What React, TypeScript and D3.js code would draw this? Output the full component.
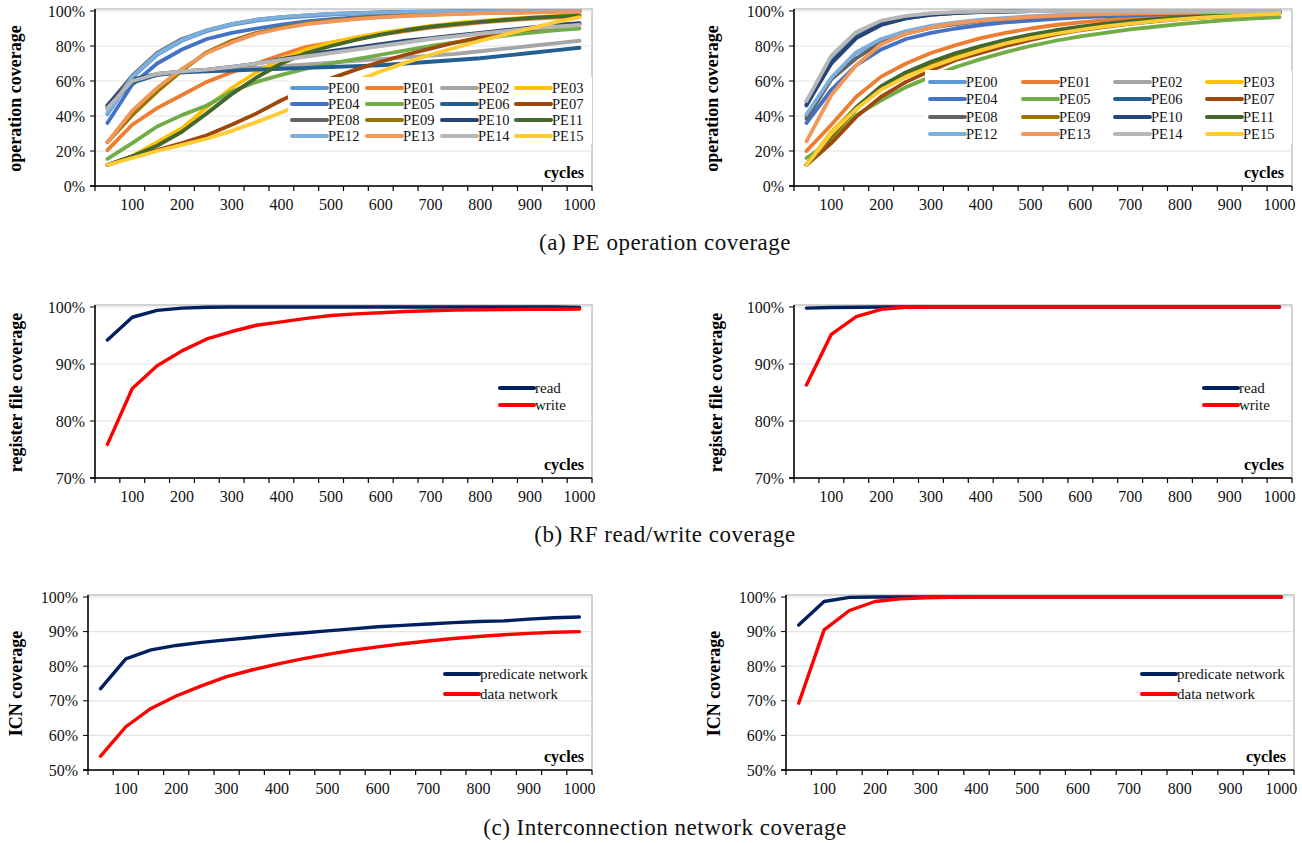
import React, { useEffect, useRef } from 'react';
import * as d3 from 'd3';

// categories on the x axis (simulation cycles)
const cycles = [50, 100, 150, 200, 250, 300, 350, 400, 450, 500, 550, 600, 650, 700, 750, 800, 850, 900, 950, 1000];
const xTickLabels = [100, 200, 300, 400, 500, 600, 700, 800, 900, 1000];

const peNames = ['PE00', 'PE01', 'PE02', 'PE03', 'PE04', 'PE05', 'PE06', 'PE07',
  'PE08', 'PE09', 'PE10', 'PE11', 'PE12', 'PE13', 'PE14', 'PE15'];
const peColors = ['#5B9BD5', '#ED7D31', '#A5A5A5', '#FFC000', '#4472C4', '#70AD47', '#255E91', '#9E480E',
  '#636363', '#997300', '#264478', '#43682B', '#7CAFDD', '#F1975A', '#B7B7B7', '#FFCD33'];

// (a) left: PE operation coverage, %
const opL00 = [41, 62, 75, 83, 88.5, 92, 94.5, 96, 97, 98, 98.5, 99, 99.3, 99.5, 99.7, 99.8, 99.9, 100, 100, 100];
const opL01 = [20.5, 35, 44.5, 52, 59.5, 65, 70, 75, 79.5, 82, 84.5, 86.5, 88.5, 90.5, 92, 93.3, 94.5, 95.5, 96.2, 96.8];
const opL02 = [44, 60, 63.5, 65, 66, 66.5, 67.5, 68.5, 69.5, 70.5, 71.5, 72.5, 73.5, 74.5, 75.5, 77, 78.5, 80, 81.5, 83];
const opL03 = [12, 17, 25, 33, 45, 56, 65, 72.5, 78, 82, 85, 87.5, 89.5, 91.5, 93, 94.3, 95.4, 96.3, 97, 97.6];
const opL04 = [36, 58, 70, 78, 84, 87.5, 90, 92.2, 94, 95.3, 96.3, 97, 97.6, 98.1, 98.5, 98.8, 99.1, 99.3, 99.5, 99.6];
const opL05 = [15.5, 24.5, 34, 40.5, 46, 54, 59.5, 63.5, 67, 70, 72.5, 75, 77.5, 80, 82, 84, 86, 87.5, 89, 90];
const opL06 = [45, 59, 63.5, 65, 65.5, 66, 66.5, 67, 67.5, 68, 68.5, 69, 70, 71, 72, 73, 74.5, 76, 77.5, 79];
const opL07 = [12, 17, 20.5, 24.5, 29, 35, 41.5, 49, 55.5, 61.5, 66.5, 71, 75, 78.5, 82, 85, 87.5, 89.5, 91, 92.5];
const opL08 = [46, 63, 76, 84, 89, 92.5, 95, 96.5, 97.5, 98.3, 98.8, 99.2, 99.5, 99.7, 99.8, 99.9, 100, 100, 100, 100];
const opL09 = [25, 40.5, 54, 66, 76.5, 83, 87.5, 90.5, 93, 94.5, 95.8, 96.7, 97.5, 98, 98.5, 98.9, 99.2, 99.4, 99.6, 99.7];
const opL10 = [46, 61, 64, 65.5, 66.5, 68, 70, 72.5, 75, 77, 79, 81, 83, 84.5, 86, 87.5, 89, 90.5, 92, 93];
const opL11 = [12, 17, 23, 31, 41.5, 52.5, 62, 70, 76, 80, 83.5, 86.5, 89, 91, 92.5, 93.8, 95, 96, 96.8, 97.4];
const opL12 = [42, 62.5, 75.5, 83.5, 89, 92.5, 95, 96.5, 97.5, 98.3, 98.8, 99.2, 99.5, 99.7, 99.8, 99.9, 100, 100, 100, 100];
const opL13 = [25, 43, 56, 67, 76, 82, 87, 90, 92.5, 94, 95.3, 96.3, 97.1, 97.7, 98.2, 98.6, 98.9, 99.1, 99.3, 99.5];
const opL14 = [44.5, 60, 64, 65.5, 66.5, 68, 70, 72, 74, 76, 78, 80, 82, 84, 85.5, 87, 88.5, 90, 91, 92];
const opL15 = [12, 16, 20, 23.5, 27, 31.5, 36.5, 42, 48, 54, 60, 65.5, 70.5, 75, 79, 83, 86.5, 90, 93.5, 96.5];

// (a) right
const opR00 = [40, 61, 76, 83.5, 88, 91, 93, 94.5, 95.5, 96.5, 97.2, 97.8, 98.3, 98.7, 99, 99.3, 99.5, 99.7, 99.8, 99.9];
const opR01 = [20, 35, 51, 62.5, 70, 76, 80.5, 84.5, 87.5, 90, 92, 93.5, 94.8, 95.8, 96.6, 97.3, 97.9, 98.4, 98.8, 99.1];
const opR02 = [48, 74, 87.5, 94, 97, 98.5, 99.2, 99.6, 99.8, 99.9, 100, 100, 100, 100, 100, 100, 100, 100, 100, 100];
const opR03 = [12, 31, 45, 56, 63.5, 69, 74, 78, 82, 85, 87.5, 89.5, 91.5, 93, 94.5, 95.5, 96.5, 97.3, 98, 98.6];
const opR04 = [36, 55, 69, 78, 84, 87.5, 90, 92, 93.5, 94.5, 95.5, 96.3, 97, 97.5, 98, 98.4, 98.8, 99.1, 99.4, 99.6];
const opR05 = [16, 25.5, 40.5, 49, 56.5, 62.5, 68, 72.5, 76.5, 80, 83, 85.5, 87.5, 89.5, 91, 92.5, 93.8, 95, 95.8, 96.4];
const opR06 = [46, 71, 85, 92.5, 96, 98, 99, 99.5, 99.8, 99.9, 100, 100, 100, 100, 100, 100, 100, 100, 100, 100];
const opR07 = [12, 24.5, 39.5, 51, 59.5, 66, 72, 76, 80, 83.5, 86.5, 89, 91, 92.7, 94.1, 95.3, 96.3, 97.1, 97.8, 98.4];
const opR08 = [38.5, 61, 73, 82, 87, 90.5, 92.5, 94.2, 95.3, 96.3, 97, 97.6, 98.1, 98.5, 98.9, 99.2, 99.4, 99.6, 99.7, 99.8];
const opR09 = [12, 28, 44, 56, 64, 70.5, 75.5, 79.5, 83, 86, 88.5, 90.5, 92.3, 93.8, 95, 96, 96.9, 97.6, 98.2, 98.7];
const opR10 = [46.5, 70, 84.5, 92, 95.8, 97.8, 98.8, 99.4, 99.7, 99.9, 100, 100, 100, 100, 100, 100, 100, 100, 100, 100];
const opR11 = [12, 29, 45, 57, 65, 71, 76, 80, 83.5, 86.5, 89, 91, 92.8, 94.2, 95.4, 96.4, 97.2, 97.9, 98.4, 98.8];
const opR12 = [41, 62, 76.5, 84, 88.5, 91.5, 93.5, 95, 96, 97, 97.6, 98.1, 98.6, 98.9, 99.2, 99.4, 99.6, 99.7, 99.8, 99.9];
const opR13 = [25.5, 52, 69, 81, 87, 90.5, 93, 94.5, 95.5, 96.5, 97.2, 97.8, 98.2, 98.5, 98.8, 99, 99.2, 99.4, 99.5, 99.6];
const opR14 = [48.5, 74.5, 88, 94.5, 97.2, 98.6, 99.3, 99.7, 99.9, 100, 100, 100, 100, 100, 100, 100, 100, 100, 100, 100];
const opR15 = [12, 30, 44, 55, 62.5, 68, 73, 77.5, 81.5, 84.5, 87, 89.2, 91.2, 92.8, 94.2, 95.3, 96.3, 97.1, 97.8, 98.4];

// (b) register file read / write coverage, %
const rfReadL = [94.2, 98.2, 99.4, 99.8, 99.95, 100, 100, 100, 100, 100, 100, 100, 100, 100, 100, 100, 100, 100, 100, 99.9];
const rfWriteL = [75.9, 85.7, 89.7, 92.3, 94.4, 95.7, 96.8, 97.4, 98, 98.5, 98.8, 99, 99.2, 99.35, 99.45, 99.5, 99.55, 99.6, 99.6, 99.65];
const rfReadR = [99.8, 99.9, 99.95, 100, 100, 100, 100, 100, 100, 100, 100, 100, 100, 100, 100, 100, 100, 100, 100, 100];
const rfWriteR = [86.3, 95.2, 98.3, 99.6, 99.95, 100, 100, 100, 100, 100, 100, 100, 100, 100, 100, 100, 100, 100, 100, 100];

// (c) interconnection network coverage, %
const icnPredL = [73.5, 82.1, 84.7, 86, 86.9, 87.6, 88.3, 89, 89.6, 90.2, 90.8, 91.4, 91.8, 92.2, 92.6, 92.9, 93.1, 93.6, 94, 94.2];
const icnDataL = [54, 62.5, 67.8, 71.4, 74.3, 77, 78.9, 80.6, 82.1, 83.4, 84.6, 85.6, 86.5, 87.3, 88, 88.6, 89.1, 89.5, 89.8, 90];
const icnPredR = [91.9, 98.7, 99.9, 100, 100, 100, 100, 100, 100, 100, 100, 100, 100, 100, 100, 100, 100, 100, 100, 100];
const icnDataR = [69.3, 90.5, 96.1, 98.7, 99.5, 99.8, 99.9, 100, 100, 100, 100, 100, 100, 100, 100, 100, 100, 100, 100, 100];

const opLeft = [opL00, opL01, opL02, opL03, opL04, opL05, opL06, opL07, opL08, opL09, opL10, opL11, opL12, opL13, opL14, opL15];
const opRight = [opR00, opR01, opR02, opR03, opR04, opR05, opR06, opR07, opR08, opR09, opR10, opR11, opR12, opR13, opR14, opR15];

const SERIF = '"Liberation Serif", "Times New Roman", serif';

function drawPanel(svg: any, p: any) {
  const g = svg.append('g');
  const x = d3.scaleBand().domain(cycles.map(String)).range([p.x0, p.x1]);
  const y = d3.scaleLinear().domain(p.domain).range([p.yBot, p.yTop]);

  // plot area border
  g.append('rect')
    .attr('x', p.x0).attr('y', p.yTop - 2)
    .attr('width', p.x1 - p.x0).attr('height', p.yBot - p.yTop + 2)
    .attr('fill', 'white').attr('stroke', '#a6a6a6').attr('stroke-width', 1);

  // gridlines
  g.selectAll('.grid').data(p.ticks).enter().append('line')
    .attr('x1', p.x0).attr('x2', p.x1)
    .attr('y1', (d: number) => y(d)).attr('y2', (d: number) => y(d))
    .attr('stroke', '#e3e3e3').attr('stroke-width', 1.2);

  const line = d3.line<number>()
    .x((d, i) => (x(String(cycles[i])) as number) + x.bandwidth() / 2)
    .y(d => y(d));

  p.series.forEach((s: any) => {
    g.append('path')
      .attr('d', line(s.values))
      .attr('fill', 'none')
      .attr('stroke', s.color)
      .attr('stroke-width', p.lineWidth)
      .attr('stroke-linejoin', 'round')
      .attr('stroke-linecap', 'round');
  });

  // legend
  if (p.legendBox) {
    g.append('rect')
      .attr('x', p.legendBox[0]).attr('y', p.legendBox[1])
      .attr('width', p.legendBox[2]).attr('height', p.legendBox[3])
      .attr('fill', 'white');
  }
  p.series.forEach((s: any, i: number) => {
    const col = i % p.legendCols.length;
    const row = Math.floor(i / p.legendCols.length);
    const lx = p.legendCols[col];
    const ly = p.legendRows[row];
    g.append('line')
      .attr('x1', lx).attr('x2', lx + p.legendLine)
      .attr('y1', ly).attr('y2', ly)
      .attr('stroke', s.color).attr('stroke-width', 4)
      .attr('stroke-linecap', 'round');
    g.append('text')
      .attr('x', lx + p.legendLine + 1).attr('y', ly)
      .attr('dy', '0.35em')
      .attr('font-family', SERIF).attr('font-size', p.legendFont)
      .attr('fill', '#111')
      .text(s.name);
  });

  // axes
  g.append('line').attr('x1', p.x0).attr('x2', p.x0).attr('y1', p.yTop - 2).attr('y2', p.yBot)
    .attr('stroke', 'black').attr('stroke-width', 1.5);
  g.append('line').attr('x1', p.x0 - 5).attr('x2', p.x1).attr('y1', p.yBot).attr('y2', p.yBot)
    .attr('stroke', 'black').attr('stroke-width', 1.5);

  g.selectAll('.ytick').data(p.ticks).enter().append('line')
    .attr('x1', p.x0 - 5).attr('x2', p.x0)
    .attr('y1', (d: number) => y(d)).attr('y2', (d: number) => y(d))
    .attr('stroke', 'black').attr('stroke-width', 1);

  const edges = cycles.map(c => x(String(c)) as number).concat([p.x1]);
  g.selectAll('.xtick').data(edges).enter().append('line')
    .attr('x1', (d: number) => d).attr('x2', (d: number) => d)
    .attr('y1', p.yBot).attr('y2', p.yBot + 5)
    .attr('stroke', 'black').attr('stroke-width', 1.2);

  g.selectAll('.ylab').data(p.ticks).enter().append('text')
    .attr('x', p.x0 - 10).attr('y', (d: number) => y(d))
    .attr('dy', '0.35em').attr('text-anchor', 'end')
    .attr('font-family', SERIF).attr('font-size', 16).attr('fill', '#111')
    .text((d: number) => d + '%');

  g.selectAll('.xlab').data(xTickLabels).enter().append('text')
    .attr('x', (d: number) => (x(String(d)) as number) + x.bandwidth() / 2)
    .attr('y', p.yBot + 24)
    .attr('text-anchor', 'middle')
    .attr('font-family', SERIF).attr('font-size', 16).attr('fill', '#111')
    .text((d: number) => d);

  g.append('text')
    .attr('x', p.x1 - 8).attr('y', p.yBot - 8)
    .attr('text-anchor', 'end')
    .attr('font-family', SERIF).attr('font-size', 16).attr('font-weight', 'bold')
    .text('cycles');

  g.append('text')
    .attr('transform', `translate(${p.titleX},${(p.yTop + p.yBot) / 2}) rotate(-90)`)
    .attr('dy', '0.35em').attr('text-anchor', 'middle')
    .attr('font-family', SERIF).attr('font-size', 18).attr('font-weight', 'bold')
    .text(p.yTitle);
}

function App() {
  const ref = useRef<SVGSVGElement>(null);

  useEffect(() => {
    const svg = d3.select(ref.current);
    svg.selectAll('*').remove();

    const peSeries = (data: number[][]) => data.map((v, i) => ({ name: peNames[i], values: v, color: peColors[i] }));
    const opTicks = [0, 20, 40, 60, 80, 100];
    const rfTicks = [70, 80, 90, 100];
    const icnTicks = [50, 60, 70, 80, 90, 100];

    drawPanel(svg, {
      x0: 95, x1: 592, yTop: 11, yBot: 186, domain: [0, 100], ticks: opTicks,
      yTitle: 'operation coverage', titleX: 15, lineWidth: 3.8,
      series: peSeries(opLeft),
      legendBox: [288, 77, 304, 67], legendCols: [292, 367, 442, 516], legendRows: [88, 104, 120, 136],
      legendLine: 35, legendFont: 14.5,
    });
    drawPanel(svg, {
      x0: 794, x1: 1292, yTop: 11, yBot: 186, domain: [0, 100], ticks: opTicks,
      yTitle: 'operation coverage', titleX: 712, lineWidth: 3.8,
      series: peSeries(opRight),
      legendBox: [925, 70, 367, 74], legendCols: [930, 1023, 1115, 1207], legendRows: [82, 99, 117, 134],
      legendLine: 35, legendFont: 14.5,
    });
    drawPanel(svg, {
      x0: 95, x1: 592, yTop: 307, yBot: 478, domain: [70, 100], ticks: rfTicks,
      yTitle: 'register file coverage', titleX: 16, lineWidth: 3.4,
      series: [{ name: 'read', values: rfReadL, color: '#002060' }, { name: 'write', values: rfWriteL, color: '#FF0000' }],
      legendCols: [500], legendRows: [388, 405], legendLine: 34, legendFont: 15,
    });
    drawPanel(svg, {
      x0: 794, x1: 1292, yTop: 307, yBot: 478, domain: [70, 100], ticks: rfTicks,
      yTitle: 'register file coverage', titleX: 716, lineWidth: 3.4,
      series: [{ name: 'read', values: rfReadR, color: '#002060' }, { name: 'write', values: rfWriteR, color: '#FF0000' }],
      legendCols: [1204], legendRows: [388, 405], legendLine: 34, legendFont: 15,
    });
    drawPanel(svg, {
      x0: 88, x1: 592, yTop: 597, yBot: 770, domain: [50, 100], ticks: icnTicks,
      yTitle: 'ICN coverage', titleX: 16, lineWidth: 3.4,
      series: [{ name: 'predicate network', values: icnPredL, color: '#002060' }, { name: 'data network', values: icnDataL, color: '#FF0000' }],
      legendCols: [445], legendRows: [674, 694], legendLine: 34, legendFont: 15,
    });
    drawPanel(svg, {
      x0: 786, x1: 1294, yTop: 597, yBot: 770, domain: [50, 100], ticks: icnTicks,
      yTitle: 'ICN coverage', titleX: 714, lineWidth: 3.4,
      series: [{ name: 'predicate network', values: icnPredR, color: '#002060' }, { name: 'data network', values: icnDataR, color: '#FF0000' }],
      legendCols: [1142], legendRows: [674, 694], legendLine: 34, legendFont: 15,
    });

    const captions = [
      { text: '(a) PE operation coverage', y: 250 },
      { text: '(b) RF read/write coverage', y: 542 },
      { text: '(c) Interconnection network coverage', y: 835 },
    ];
    svg.selectAll('.caption').data(captions).enter().append('text')
      .attr('x', 665).attr('y', (d: any) => d.y)
      .attr('text-anchor', 'middle')
      .attr('font-family', SERIF).attr('font-size', 23).attr('letter-spacing', 0.5).attr('fill', '#111')
      .text((d: any) => d.text);
  }, []);

  return (
    <svg ref={ref} width={1302} height={843}
      style={{ position: 'absolute', left: 0, top: 0, background: 'white', display: 'block' }} />
  );
}

export default App;
